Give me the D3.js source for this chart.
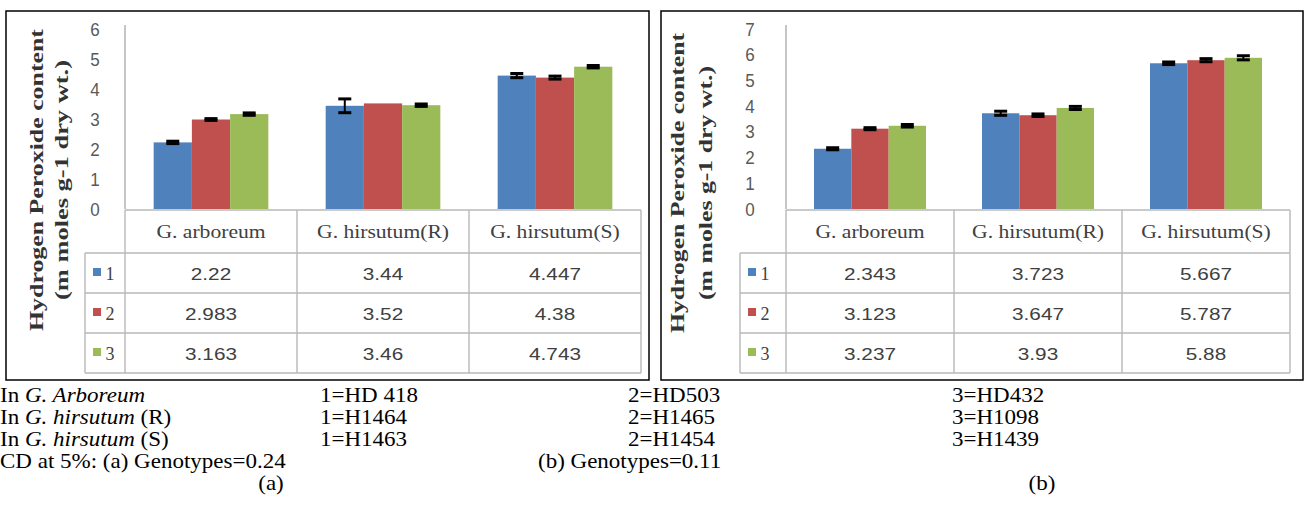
<!DOCTYPE html>
<html>
<head>
<meta charset="utf-8">
<script src="https://cdn.jsdelivr.net/npm/d3@7"></script>
<style>
  html, body { margin: 0; padding: 0; background: #ffffff; }
  svg { display: block; }
</style>
</head>
<body>
<svg id="chart" width="1308" height="515"></svg>
<script>
// ---------------- DATA ----------------
const categories = ["G. arboreum", "G. hirsutum(R)", "G. hirsutum(S)"];
const seriesNames = ["1", "2", "3"];

// panel (a)
const seriesA1 = [2.22, 3.44, 4.447];
const seriesA2 = [2.983, 3.52, 4.38];
const seriesA3 = [3.163, 3.46, 4.743];
const errorsA1 = [0.04, 0.23, 0.07];
const errorsA2 = [0.03, 0.0, 0.05];
const errorsA3 = [0.04, 0.04, 0.04];
const ticksA = [0, 1, 2, 3, 4, 5, 6];

// panel (b)
const seriesB1 = [2.343, 3.723, 5.667];
const seriesB2 = [3.123, 3.647, 5.787];
const seriesB3 = [3.237, 3.93, 5.88];
const errorsB1 = [0.04, 0.08, 0.05];
const errorsB2 = [0.04, 0.05, 0.06];
const errorsB3 = [0.05, 0.06, 0.08];
const ticksB = [0, 1, 2, 3, 4, 5, 6, 7];

const yLabelLines = ["Hydrogen Peroxide content", "(m moles g-1 dry wt.)"];

// footnotes
const footSpecies = [["In ", "G. Arboreum", ""], ["In ", "G. hirsutum", " (R)"], ["In ", "G. hirsutum", " (S)"]];
const footCol1 = ["1=HD 418", "1=H1464", "1=H1463"];
const footCol2 = ["2=HD503", "2=H1465", "2=H1454"];
const footCol3 = ["3=HD432", "3=H1098", "3=H1439"];
const cdTexts = ["CD at 5%: (a) Genotypes=0.24", "(b) Genotypes=0.11"];
const panelTags = ["(a)", "(b)"];

// ---------------- STYLE ----------------
const colors = ["#4f81bd", "#c0504d", "#9bbb59"];
const gridGray = "#b8b8b8";
const textGray = "#404040";

const svg = d3.select("#chart");

function stext(g, x, y, str, o) {
  const t = g.append("text")
    .attr("transform", `translate(${x},${y}) scale(${o.sx || 1},${o.sy || 1})`)
    .attr("text-anchor", o.anchor || "middle")
    .attr("font-family", o.family || "'Liberation Serif', serif")
    .attr("font-size", o.size || 16)
    .attr("font-weight", o.weight || "normal")
    .attr("fill", o.fill || "#000")
    .text(str);
  return t;
}

function drawPanel(cfg) {
  const g = svg.append("g");
  const series = cfg.series;
  const errors = cfg.errors;

  // outer frame
  g.append("rect")
    .attr("x", cfg.box.x).attr("y", cfg.box.y)
    .attr("width", cfg.box.w).attr("height", cfg.box.h)
    .attr("fill", "none").attr("stroke", "#000").attr("stroke-width", 1.5);

  const x = d3.scaleBand().domain(categories).range([cfg.x0, cfg.x1]).padding(0);
  const bw = x.bandwidth();
  const xs = d3.scaleBand().domain(seriesNames).range([bw / 6, bw * 5 / 6]).padding(0);
  const y = d3.scaleLinear().domain([0, cfg.max]).range([cfg.yBot, cfg.yTop]);

  // y axis line + tick labels
  g.append("line")
    .attr("x1", cfg.x0).attr("x2", cfg.x0)
    .attr("y1", cfg.yTop - 4).attr("y2", cfg.yBot)
    .attr("stroke", "#8c8c8c").attr("stroke-width", 1);
  cfg.ticks.forEach(t => {
    stext(g, cfg.tickX, y(t) + 6.5, String(t), {
      size: 17, family: "'Liberation Sans', Arial, sans-serif", fill: "#595959", sx: 1.0, sy: 1.08
    });
  });

  // bars
  series.forEach((vals, si) => {
    g.selectAll(null).data(vals).enter().append("rect")
      .attr("x", (d, i) => x(categories[i]) + xs(seriesNames[si]))
      .attr("y", d => y(d))
      .attr("width", xs.bandwidth())
      .attr("height", d => y(0) - y(d))
      .attr("fill", colors[si]);
  });

  // error bars
  series.forEach((vals, si) => {
    vals.forEach((v, i) => {
      const e = errors[si][i];
      if (!(e > 0)) return;
      const cx = x(categories[i]) + xs(seriesNames[si]) + xs.bandwidth() / 2;
      g.append("line").attr("x1", cx).attr("x2", cx)
        .attr("y1", y(v + e)).attr("y2", y(v - e))
        .attr("stroke", "#000").attr("stroke-width", 2);
      [v + e, v - e].forEach(c => {
        g.append("line").attr("x1", cx - 6.5).attr("x2", cx + 6.5)
          .attr("y1", y(c)).attr("y2", y(c))
          .attr("stroke", "#000").attr("stroke-width", 3);
      });
    });
  });

  // data table
  const tTop = cfg.yBot + 1;
  const rowH = [43, 40, 40, 40];
  const rowY = [tTop];
  rowH.forEach((h, i) => rowY.push(rowY[i] + h));
  const lineAttr = sel => sel.attr("stroke", gridGray).attr("stroke-width", 1.4).attr("fill", "none");

  g.append("line").attr("x1", cfg.x0).attr("x2", cfg.x1).attr("y1", rowY[0]).attr("y2", rowY[0]).call(lineAttr);
  for (let r = 1; r < rowY.length; r++) {
    g.append("line").attr("x1", cfg.labelX).attr("x2", cfg.x1).attr("y1", rowY[r]).attr("y2", rowY[r]).call(lineAttr);
  }
  g.append("line").attr("x1", cfg.labelX).attr("x2", cfg.labelX).attr("y1", rowY[1]).attr("y2", rowY[4]).call(lineAttr);
  const colEdges = [cfg.x0].concat(categories.map(c => x(c) + bw));
  colEdges.forEach(cx => {
    g.append("line").attr("x1", cx).attr("x2", cx).attr("y1", rowY[0]).attr("y2", rowY[4]).call(lineAttr);
  });

  // header
  categories.forEach(c => {
    stext(g, x(c) + bw / 2, (rowY[0] + rowY[1]) / 2 + 6, c, {
      size: 18, fill: "#404040", sx: 1.2
    });
  });
  // rows
  series.forEach((vals, si) => {
    const cy = (rowY[si + 1] + rowY[si + 2]) / 2;
    g.append("rect").attr("x", cfg.labelX + 8).attr("y", cy - 5).attr("width", 8).attr("height", 8).attr("fill", colors[si]);
    stext(g, cfg.labelX + 25, cy + 6.5, seriesNames[si], { size: 18, fill: "#404040", sx: 1.0 });
    vals.forEach((v, i) => {
      stext(g, x(categories[i]) + bw / 2, cy + 6.5, String(v), {
        size: 17, family: "'Liberation Sans', Arial, sans-serif", fill: textGray, sx: 1.22
      });
    });
  });

  // y axis label (two lines, rotated)
  yLabelLines.forEach((line, li) => {
    g.append("text")
      .attr("transform", `translate(${cfg.ylabX[li]},${cfg.ylabCY}) rotate(-90)`)
      .attr("text-anchor", "middle")
      .attr("font-family", "'Liberation Serif', serif")
      .attr("font-weight", "bold")
      .attr("font-size", 18)
      .attr("textLength", cfg.ylabLen[li])
      .attr("lengthAdjust", "spacingAndGlyphs")
      .attr("fill", "#333")
      .text(line);
  });
}

drawPanel({
  box: { x: 6, y: 11, w: 643, h: 369 },
  x0: 125, x1: 641, yTop: 29, yBot: 209, max: 6,
  ticks: ticksA, tickX: 95, labelX: 85,
  ylabX: [43, 68], ylabCY: 180, ylabLen: [302, 240],
  series: [seriesA1, seriesA2, seriesA3],
  errors: [errorsA1, errorsA2, errorsA3]
});

drawPanel({
  box: { x: 661, y: 11, w: 642, h: 369 },
  x0: 786, x1: 1290, yTop: 29, yBot: 209, max: 7,
  ticks: ticksB, tickX: 750, labelX: 740,
  ylabX: [684, 712], ylabCY: 183, ylabLen: [300, 234],
  series: [seriesB1, seriesB2, seriesB3],
  errors: [errorsB1, errorsB2, errorsB3]
});

// ---------------- FOOTNOTES ----------------
const fn = svg.append("g")
  .attr("font-family", "'Liberation Serif', 'Times New Roman', serif")
  .attr("font-size", 20)
  .attr("fill", "#000");
const baseY = [402, 424, 446, 468, 490];
const fsx = 1.15;
function ftext(xp, yp, anchor) {
  return fn.append("text")
    .attr("transform", `translate(${xp},${yp}) scale(${fsx},1)`)
    .attr("text-anchor", anchor || "start");
}

footSpecies.forEach((parts, i) => {
  const t = ftext(0, baseY[i]);
  t.append("tspan").text(parts[0]);
  t.append("tspan").attr("font-style", "italic").text(parts[1]);
  if (parts[2]) t.append("tspan").text(parts[2]);
  ftext(320, baseY[i]).text(footCol1[i]);
  ftext(628, baseY[i]).text(footCol2[i]);
  ftext(952, baseY[i]).text(footCol3[i]);
});
ftext(0, baseY[3]).text(cdTexts[0]);
ftext(538, baseY[3]).text(cdTexts[1]);
ftext(271, baseY[4], "middle").text(panelTags[0]);
ftext(1042, baseY[4], "middle").text(panelTags[1]);
</script>
</body>
</html>
